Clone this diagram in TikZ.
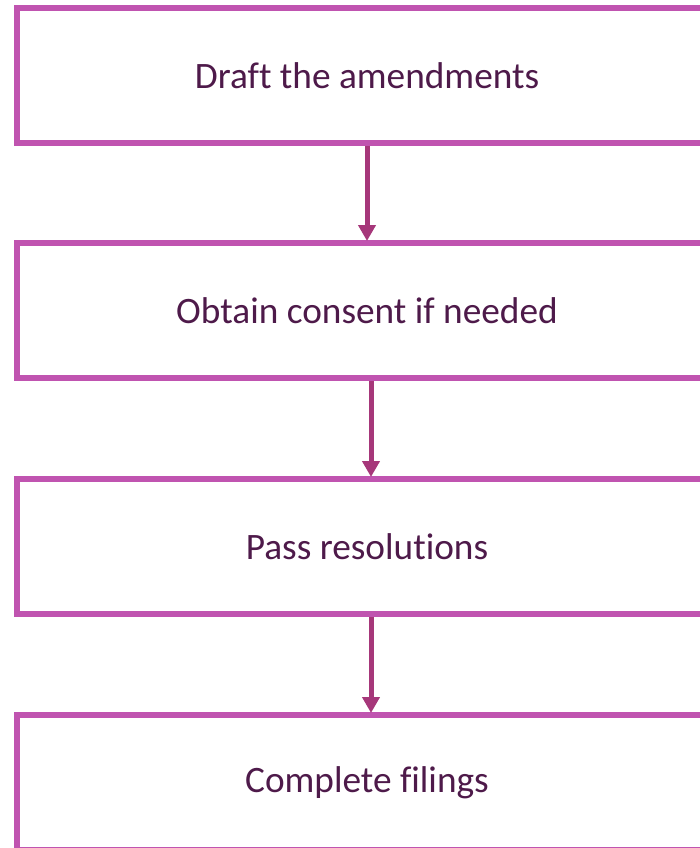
\documentclass[tikz,border=0pt]{standalone}
\usepackage{fontspec}
\setmainfont{Carlito}[Ligatures=NoCommon]
\usetikzlibrary{arrows.meta}
\definecolor{boxline}{HTML}{C054B0}
\definecolor{arrowcol}{HTML}{A6377A}
\definecolor{textcol}{HTML}{4E1A4A}
\begin{document}
\begin{tikzpicture}[x=1pt,y=1pt,
  stepbox/.style={draw=boxline, line width=6pt, fill=white, minimum width=700pt, minimum height=135pt, inner sep=0pt, text=textcol, font=\fontsize{37.3}{42}\selectfont},
  flow/.style={draw=arrowcol, line width=5pt, -{Triangle[width=17pt,length=16pt]}}]
\useasboundingbox (0,0) rectangle (700,-848);
\clip (0,0) rectangle (700,-848);
\fill[white] (0,0) rectangle (700,-848);
\node[stepbox] (b1) at (367,-75.5) {Draft the amendments};
\node[stepbox] (b2) at (367,-310.5) {Obtain consent if needed};
\node[stepbox] (b3) at (367,-546.5) {Pass resolutions};
\node[stepbox] (b4) at (367,-782.5) {Complete filings};
\coordinate (a1s) at ([xshift=0pt]b1.south);
\coordinate (a1e) at ([yshift=-1pt]b2.north);
\coordinate (a2s) at ([xshift=4pt]b2.south);
\coordinate (a2e) at ([xshift=4pt,yshift=-1pt]b3.north);
\coordinate (a3s) at ([xshift=4pt]b3.south);
\coordinate (a3e) at ([xshift=4pt,yshift=-1pt]b4.north);
\draw[flow] (a1s) -- (a1e);
\draw[flow] (a2s) -- (a2e);
\draw[flow] (a3s) -- (a3e);
\end{tikzpicture}
\end{document}
